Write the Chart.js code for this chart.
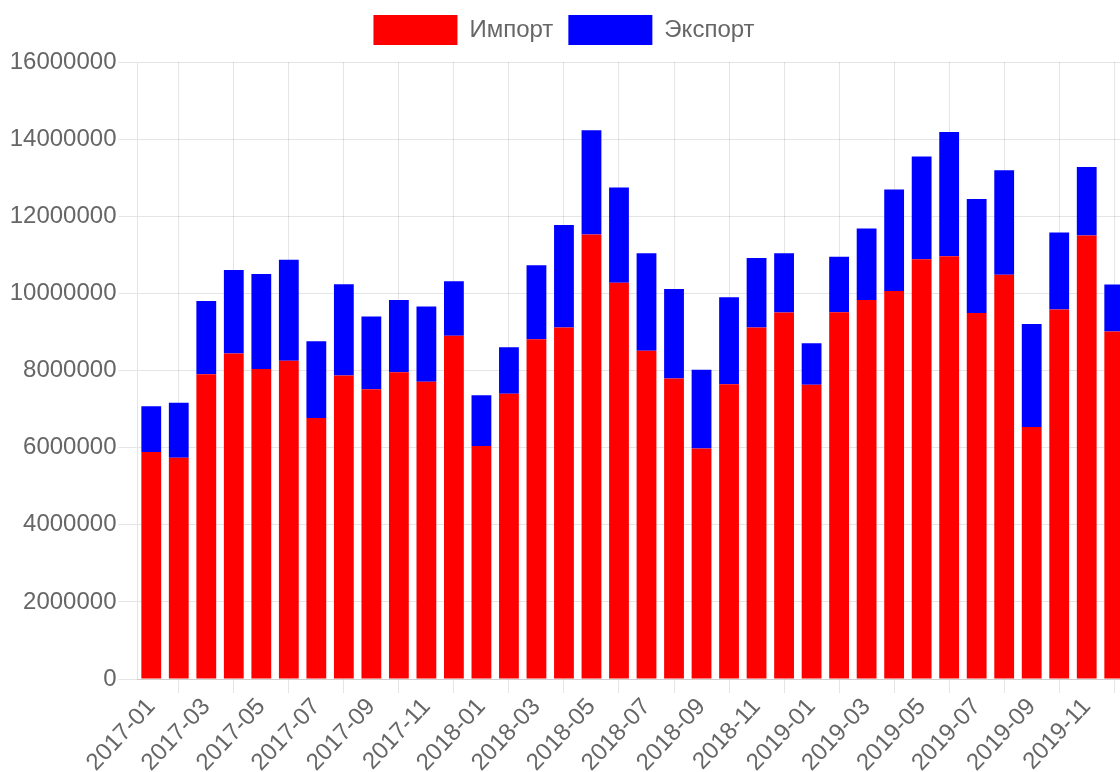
<!DOCTYPE html>
<html>
<head>
<meta charset="utf-8">
<script src="https://cdn.jsdelivr.net/npm/chart.js@4"></script>
<style>
  html, body { margin: 0; padding: 0; overflow: hidden; background: #fff; }
  #wrap { width: 1128px; height: 772px; }
</style>
</head>
<body>
<div id="wrap"><canvas id="chart"></canvas></div>
<script>
const months = [
  '2017-01','2017-02','2017-03','2017-04','2017-05','2017-06','2017-07','2017-08','2017-09','2017-10','2017-11','2017-12',
  '2018-01','2018-02','2018-03','2018-04','2018-05','2018-06','2018-07','2018-08','2018-09','2018-10','2018-11','2018-12',
  '2019-01','2019-02','2019-03','2019-04','2019-05','2019-06','2019-07','2019-08','2019-09','2019-10','2019-11','2019-12'
];

const importValues = [
  5885000, 5740000, 7905000, 8440000, 8040000, 8250000, 6765000, 7870000, 7517000, 7957000, 7707000, 8898000,
  6040000, 7396000, 8811000, 9113000, 11529000, 10278000, 8509000, 7793000, 5980000, 7646000, 9113000, 9502000,
  7629000, 9510000, 9830000, 10062000, 10882000, 10960000, 9493000, 10485000, 6533000, 9579000, 11503000, 9010000
];

const exportValues = [
  1191000, 1424000, 1895000, 2167000, 2463000, 2624000, 1995000, 2365000, 1881000, 1873000, 1950000, 1415000,
  1321000, 1208000, 1916000, 2658000, 2701000, 2468000, 2529000, 2321000, 2037000, 2253000, 1804000, 1536000,
  1079000, 1441000, 1855000, 2632000, 2667000, 3228000, 2952000, 2710000, 2675000, 2002000, 1777000, 1217000
];

const yTicks = { min: 0, max: 16000000, step: 2000000 };

Chart.defaults.font.family = '"Liberation Sans", Arial, Helvetica, sans-serif';
Chart.defaults.font.size = 24;
Chart.defaults.color = '#666';

// a bit more room under the legend
const legendGap = {
  id: 'legendGap',
  beforeInit(chart) {
    const fit = chart.legend.fit;
    chart.legend.fit = function () {
      fit.call(this);
      this.height += 7;
    };
  }
};

const ctx = document.getElementById('chart').getContext('2d');
new Chart(ctx, {
  type: 'bar',
  data: {
    labels: months,
    datasets: [{
      label: 'Импорт',
      data: importValues,
      backgroundColor: '#ff0000',
      borderWidth: 0
    }, {
      label: 'Экспорт',
      data: exportValues,
      backgroundColor: '#0000ff',
      borderWidth: 0
    }]
  },
  options: {
    responsive: true,
    maintainAspectRatio: false,
    animation: false,
    plugins: {
      legend: {
        position: 'top',
        labels: {
          boxWidth: 84,
          boxHeight: 30,
          padding: 15,
          font: { size: 24 }
        }
      },
      tooltip: { enabled: false }
    },
    scales: {
      x: {
        stacked: true,
        grid: { color: 'rgba(0,0,0,0.1)', tickLength: 14 },
        ticks: { minRotation: 47, maxRotation: 47, autoSkip: true, padding: 0 },
        afterFit: (scale) => { scale.height = 93; }
      },
      y: {
        stacked: true,
        min: yTicks.min,
        max: yTicks.max,
        grid: { color: 'rgba(0,0,0,0.1)', tickLength: 19 },
        ticks: { stepSize: yTicks.step, padding: 2, callback: (v) => String(v) },
        afterFit: (scale) => { scale.width = 137.5; }
      }
    }
  },
  plugins: [legendGap]
});
</script>
</body>
</html>
